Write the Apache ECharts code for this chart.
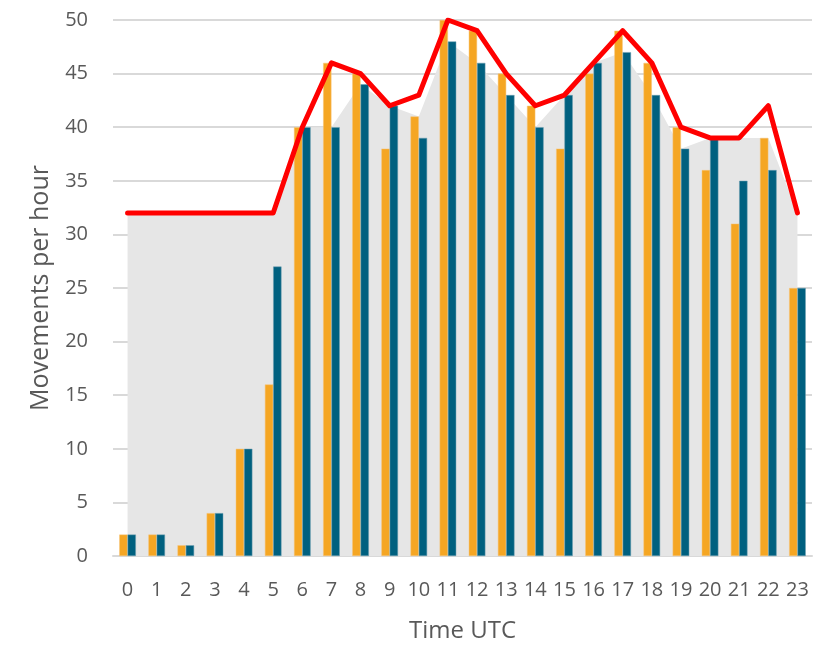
<!DOCTYPE html>
<html>
<head>
<meta charset="UTF-8">
<title>Movements per hour</title>
<script src="https://cdn.jsdelivr.net/npm/echarts@6/dist/echarts.min.js"></script>
<style>
  html, body { margin: 0; padding: 0; background: #fff; }
  #main { width: 825px; height: 648px; }
</style>
</head>
<body>
<div id="main"></div>
<script>
// hours of the day
var hours = ['0','1','2','3','4','5','6','7','8','9','10','11','12','13','14','15','16','17','18','19','20','21','22','23'];
// orange bars
var orangeVals = [2, 2, 1, 4, 10, 16, 40, 46, 45, 38, 41, 50, 49, 45, 42, 38, 45, 49, 46, 40, 36, 31, 39, 25];
// teal bars
var tealVals = [2, 2, 1, 4, 10, 27, 40, 40, 44, 42, 39, 48, 46, 43, 40, 43, 46, 47, 43, 38, 39, 35, 36, 25];
// grey background area
var areaVals = [32, 32, 32, 32, 32, 32, 40, 40, 44, 42, 41, 48, 46, 43, 40, 43, 46, 47, 43, 38, 39, 39, 39, 32];
// red line
var lineVals = [32, 32, 32, 32, 32, 32, 40, 46, 45, 42, 43, 50, 49, 45, 42, 43, 46, 49, 46, 40, 39, 39, 42, 32];
var yTicks = [0, 50, 5];

var font = '"Open Sans", "Noto Sans", sans-serif';
var txt = '#595959';

var chart = echarts.init(document.getElementById('main'));
chart.setOption({
  animation: false,
  grid: { left: 113, right: 13, top: 20, bottom: 89 },
  xAxis: {
    type: 'category',
    data: hours,
    boundaryGap: true,
    name: 'Time UTC',
    nameLocation: 'middle',
    nameGap: 63,
    nameTextStyle: { fontFamily: font, fontSize: 24, color: txt },
    axisTick: { show: false },
    axisLine: { lineStyle: { color: '#d9d9d9', width: 2 } },
    axisLabel: { fontFamily: font, fontSize: 20, color: txt, margin: 24, interval: 0 }
  },
  yAxis: {
    type: 'value',
    min: yTicks[0],
    max: yTicks[1],
    interval: yTicks[2],
    name: 'Movements per hour',
    nameLocation: 'middle',
    nameGap: 60,
    nameTextStyle: { fontFamily: font, fontSize: 25, color: txt },
    axisLine: { show: false },
    axisTick: { show: false },
    splitLine: { lineStyle: { color: '#d9d9d9', width: 2 } },
    axisLabel: { fontFamily: font, fontSize: 20, color: txt, margin: 25 }
  },
  series: [
    {
      type: 'line',
      data: areaVals,
      symbol: 'none',
      lineStyle: { width: 0 },
      areaStyle: { color: '#e6e6e6', opacity: 1 },
      z: 1
    },
    {
      type: 'bar',
      data: orangeVals,
      barWidth: 8.3,
      barGap: '0%',
      itemStyle: { color: '#f5a623', borderColor: '#f7c57a', borderWidth: 0.5 },
      z: 2
    },
    {
      type: 'bar',
      data: tealVals,
      barWidth: 8.3,
      barGap: '0%',
      itemStyle: { color: '#00607f', borderColor: '#6d9fb0', borderWidth: 0.5 },
      z: 2
    },
    {
      type: 'line',
      data: lineVals,
      symbol: 'none',
      lineStyle: { color: '#ff0000', width: 5, cap: 'round', join: 'round' },
      z: 3
    }
  ]
});
</script>
</body>
</html>
